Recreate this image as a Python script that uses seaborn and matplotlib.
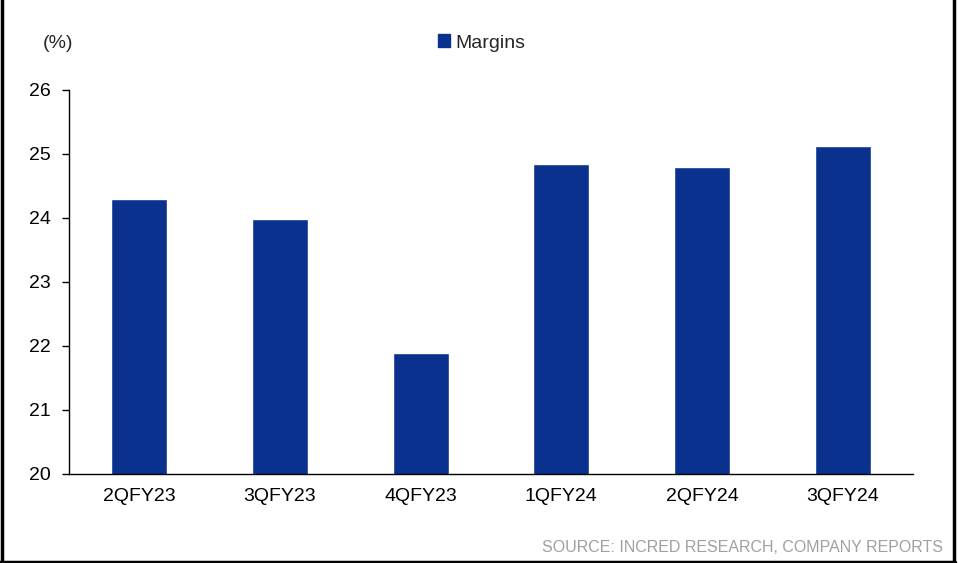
import matplotlib
matplotlib.use("Agg")
import matplotlib.pyplot as plt
import seaborn as sns
import pandas as pd
import numpy as np
from matplotlib.lines import Line2D
from matplotlib.patches import Patch

categories = ["2QFY23", "3QFY23", "4QFY23", "1QFY24", "2QFY24", "3QFY24"]
margins = [24.29, 23.99, 21.89, 24.85, 24.79, 25.13]
y_ticks = [20, 21, 22, 23, 24, 25, 26]

sns.set_theme(style="white")
plt.rcParams["font.family"] = ["Liberation Sans", "DejaVu Sans"]

bar_color = "#0B318F"
df = pd.DataFrame({"Quarter": categories, "Margins": margins})

fig = plt.figure(figsize=(9.58, 5.63), dpi=100)
ax = fig.add_axes([69/958, 1-474/563, (913-69)/958, (474-90)/563])

sns.barplot(data=df, x="Quarter", y="Margins", color=bar_color, width=0.4,
            saturation=1, ax=ax)

ax.set_ylim(20, 26)
ax.set_xlim(-0.5, len(categories) - 0.5)
ax.set_yticks(y_ticks)
ax.set_yticklabels([str(t) for t in y_ticks], fontsize=14, color="black")
ax.set_xticks(range(len(categories)))
ax.set_xticklabels(categories, fontsize=14, color="black")
ax.set_xticks(np.arange(-0.5, len(categories)), minor=True)
ax.tick_params(axis="x", which="major", length=0, pad=10)
ax.tick_params(axis="x", which="minor", length=5, width=1, direction="out", color="black")
ax.tick_params(axis="y", which="major", length=5, width=1, direction="out", color="black", left=True, pad=8)
ax.set_xlabel("")
ax.set_ylabel("")
for s in ["top", "right"]:
    ax.spines[s].set_visible(False)
for s in ["left", "bottom"]:
    ax.spines[s].set_color("black")
    ax.spines[s].set_linewidth(1)

fig.text(58/958, 1-43/563, "(%)", fontsize=14, ha="center", va="center")

handle = Patch(facecolor=bar_color, edgecolor=bar_color, label="Margins")
fig.legend(handles=[handle], loc="center", bbox_to_anchor=(482/958, 1-43/563),
           frameon=False, fontsize=14, handlelength=0.6, handleheight=0.6,
           handletextpad=0.3, borderaxespad=0)

fig.text(943/958, 1-548/563, "SOURCE: INCRED RESEARCH, COMPANY REPORTS",
         fontsize=11.5, color="#A0A0A0", ha="right", va="center")

# figure frame (left, bottom, right)
fig.add_artist(Line2D([1.5/958, 1.5/958], [0, 1], transform=fig.transFigure, color="black", lw=2.5))
fig.add_artist(Line2D([953.5/958, 953.5/958], [0, 1], transform=fig.transFigure, color="black", lw=2.5))
fig.add_artist(Line2D([0, 955/958], [1.5/563, 1.5/563], transform=fig.transFigure, color="black", lw=2.5))

fig.savefig("out.png", dpi=100, facecolor="white")
